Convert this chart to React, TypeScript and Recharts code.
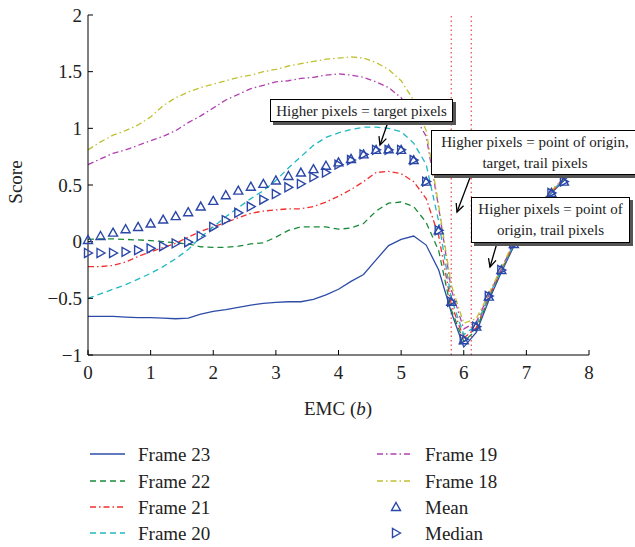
import { ComposedChart, Line, XAxis, YAxis, ReferenceLine } from 'recharts';

const xs = [0, 0.2, 0.4, 0.6, 0.8, 1, 1.2, 1.4, 1.6, 1.8, 2, 2.2, 2.4, 2.6, 2.8, 3, 3.2, 3.4, 3.6, 3.8, 4, 4.2, 4.4, 4.6, 4.8, 5, 5.2, 5.4, 5.6, 5.8, 6, 6.2, 6.4, 6.6, 6.8, 7, 7.2, 7.4, 7.6, 7.8, 8];

const frame23 = [-0.66, -0.66, -0.66, -0.665, -0.67, -0.67, -0.675, -0.68, -0.675, -0.64, -0.615, -0.6, -0.58, -0.56, -0.545, -0.535, -0.53, -0.53, -0.51, -0.47, -0.42, -0.35, -0.29, -0.16, -0.035, 0.02, 0.05, -0.03, -0.25, -0.62, -0.93, -0.8, -0.52, -0.27, -0.04, 0.14, 0.3, 0.43, 0.54, 0.64, 0.73];
const frame22 = [0.02, 0.025, 0.025, 0.02, 0.015, 0.01, 0, -0.01, -0.02, -0.045, -0.05, -0.05, -0.04, -0.02, -0.01, 0.04, 0.1, 0.13, 0.13, 0.13, 0.11, 0.12, 0.16, 0.27, 0.34, 0.35, 0.31, 0.17, -0.08, -0.6, -0.88, -0.78, -0.5, -0.26, -0.03, 0.15, 0.31, 0.44, 0.55, 0.65, 0.74];
const frame21 = [-0.22, -0.22, -0.21, -0.18, -0.13, -0.09, -0.05, -0.015, 0.04, 0.09, 0.13, 0.17, 0.21, 0.25, 0.27, 0.28, 0.29, 0.29, 0.31, 0.35, 0.4, 0.46, 0.53, 0.61, 0.62, 0.6, 0.53, 0.38, 0.05, -0.55, -0.85, -0.76, -0.49, -0.25, -0.02, 0.16, 0.31, 0.44, 0.55, 0.65, 0.74];
const frame20 = [-0.5, -0.46, -0.42, -0.38, -0.33, -0.28, -0.22, -0.15, -0.07, 0.04, 0.13, 0.22, 0.3, 0.38, 0.45, 0.54, 0.65, 0.75, 0.85, 0.92, 0.96, 0.99, 1.01, 1.01, 1.0, 0.97, 0.87, 0.68, 0.18, -0.5, -0.82, -0.74, -0.48, -0.25, -0.02, 0.16, 0.31, 0.44, 0.55, 0.65, 0.74];
const frame19 = [0.68, 0.73, 0.78, 0.81, 0.85, 0.89, 0.93, 0.98, 1.05, 1.11, 1.18, 1.25, 1.3, 1.35, 1.38, 1.41, 1.42, 1.44, 1.45, 1.47, 1.48, 1.47, 1.45, 1.41, 1.36, 1.27, 1.12, 0.93, 0.3, -0.42, -0.77, -0.71, -0.47, -0.24, -0.01, 0.17, 0.32, 0.45, 0.56, 0.66, 0.75];
const frame18 = [0.81, 0.88, 0.94, 0.98, 1.03, 1.1, 1.2, 1.27, 1.32, 1.36, 1.39, 1.42, 1.45, 1.47, 1.5, 1.52, 1.55, 1.57, 1.59, 1.61, 1.62, 1.63, 1.62, 1.58, 1.52, 1.42, 1.25, 0.98, 0.32, -0.38, -0.72, -0.68, -0.46, -0.23, 0, 0.18, 0.33, 0.45, 0.56, 0.66, 0.75];
const mean = [0.015, 0.05, 0.08, 0.11, 0.13, 0.16, 0.195, 0.225, 0.26, 0.31, 0.36, 0.41, 0.45, 0.485, 0.51, 0.54, 0.58, 0.61, 0.64, 0.67, 0.7, 0.73, 0.77, 0.81, 0.815, 0.81, 0.72, 0.53, 0.1, -0.53, -0.87, -0.75, -0.485, -0.25, -0.02, 0.17, 0.31, 0.43, 0.53, 0.63, 0.72];
const median = [-0.1, -0.1, -0.1, -0.09, -0.075, -0.06, -0.04, -0.015, -0.005, 0.05, 0.13, 0.19, 0.255, 0.31, 0.37, 0.42, 0.48, 0.51, 0.57, 0.61, 0.68, 0.72, 0.77, 0.81, 0.81, 0.81, 0.72, 0.53, 0.1, -0.53, -0.86, -0.75, -0.48, -0.25, -0.02, 0.17, 0.31, 0.43, 0.53, 0.63, 0.72];

const xTicks = [0, 1, 2, 3, 4, 5, 6, 7, 8];
const yTicks = [-1, -0.5, 0, 0.5, 1, 1.5, 2];
const markerLines = [5.8, 6.12];

const data = xs.map((x, i) => ({
  x,
  f23: frame23[i],
  f22: frame22[i],
  f21: frame21[i],
  f20: frame20[i],
  f19: frame19[i],
  f18: frame18[i],
  mean: mean[i],
  median: median[i],
}));

const FONT = '"Liberation Serif", "DejaVu Serif", serif';
const MARK = '#2b47a8';

const lineSeries = [
  { key: 'f23', name: 'Frame 23', color: '#2c4ca8', dash: undefined },
  { key: 'f22', name: 'Frame 22', color: '#1a8a3a', dash: '6 4' },
  { key: 'f21', name: 'Frame 21', color: '#f03030', dash: '6 3 1.5 3' },
  { key: 'f20', name: 'Frame 20', color: '#20b8c0', dash: '6 4' },
  { key: 'f19', name: 'Frame 19', color: '#b040b0', dash: '6 3 1.5 3' },
  { key: 'f18', name: 'Frame 18', color: '#c0c030', dash: '6 3 1.5 3' },
];

const triUp = (cx: number, cy: number) => `M${cx},${cy - 4.5} L${cx + 4.5},${cy + 3.5} L${cx - 4.5},${cy + 3.5} Z`;
const triRight = (cx: number, cy: number) => `M${cx + 4.5},${cy} L${cx - 3.5},${cy - 4.5} L${cx - 3.5},${cy + 4.5} Z`;

function MeanDot(props: any) {
  const { cx, cy, index } = props;
  if (cx == null || cy == null) return null;
  return <path key={`mu-${index}`} d={triUp(cx, cy)} fill="none" stroke={MARK} strokeWidth={1.4} />;
}

function MedianDot(props: any) {
  const { cx, cy, index } = props;
  if (cx == null || cy == null) return null;
  return <path key={`md-${index}`} d={triRight(cx, cy)} fill="none" stroke={MARK} strokeWidth={1.4} />;
}

const fmt = (v: number) => String(v).replace('-', '\u2212');

// annotation boxes, page coordinates
const notes = [
  { lines: ['Higher pixels = target pixels'], left: 270, top: 99, width: 183, height: 23, arrow: [388, 122, 380, 145] },
  { lines: ['Higher pixels = point of origin,', 'target, trail pixels'], left: 431, top: 130, width: 208, height: 45, arrow: [471, 175, 457, 212] },
  { lines: ['Higher pixels = point of', 'origin, trail pixels'], left: 471, top: 197, width: 159, height: 46, arrow: [497, 243, 490, 267] },
];

function arrowHead(x1: number, y1: number, x2: number, y2: number) {
  const a = Math.atan2(y2 - y1, x2 - x1);
  const l = 9;
  const s = 0.45;
  const p1 = [x2 - l * Math.cos(a - s), y2 - l * Math.sin(a - s)];
  const p2 = [x2 - l * Math.cos(a + s), y2 - l * Math.sin(a + s)];
  return `M${p1[0]},${p1[1]} L${x2},${y2} L${p2[0]},${p2[1]}`;
}

function Legend() {
  const rows = [454, 481, 507, 533];
  const right = [
    { kind: 'line', s: lineSeries[4] },
    { kind: 'line', s: lineSeries[5] },
    { kind: 'mean', name: 'Mean' },
    { kind: 'median', name: 'Median' },
  ];
  return (
    <svg width={635} height={547} style={{ position: 'absolute', left: 0, top: 0, pointerEvents: 'none' }}>
      {lineSeries.slice(0, 4).map((s, i) => (
        <g key={s.key}>
          <line x1={90} x2={125} y1={rows[i]} y2={rows[i]} stroke={s.color} strokeWidth={1.4} strokeDasharray={s.dash} />
          <text x={138} y={rows[i]} dy="0.35em" fontFamily={FONT} fontSize={19} fill="#222">{s.name}</text>
        </g>
      ))}
      {right.map((r: any, i) => (
        <g key={i}>
          {r.kind === 'line' && (
            <line x1={377} x2={413} y1={rows[i]} y2={rows[i]} stroke={r.s.color} strokeWidth={1.4} strokeDasharray={r.s.dash} />
          )}
          {r.kind === 'mean' && <path d={triUp(396, rows[i])} fill="none" stroke={MARK} strokeWidth={1.4} />}
          {r.kind === 'median' && <path d={triRight(396, rows[i])} fill="none" stroke={MARK} strokeWidth={1.4} />}
          <text x={425} y={rows[i]} dy="0.35em" fontFamily={FONT} fontSize={19} fill="#222">{r.kind === 'line' ? r.s.name : r.name}</text>
        </g>
      ))}
    </svg>
  );
}

export default function App() {
  return (
    <div style={{ position: 'relative', width: 635, height: 547, overflow: 'hidden', background: '#fff' }}>
      <style>{'body{margin:0}'}</style>
      <ComposedChart width={635} height={547} data={data} margin={{ top: 15, right: 46, bottom: 132, left: 28 }}>
        <XAxis
          dataKey="x"
          type="number"
          domain={[0, 8]}
          ticks={xTicks}
          tickSize={-5}
          tickMargin={16}
          height={60}
          stroke="#000"
          tick={{ fill: '#222', fontSize: 19, fontFamily: FONT }}
          label={{
            content: (p: any) => (
              <text x={338} y={408} textAnchor="middle" dy="0.35em" fontFamily={FONT} fontSize={19} fill="#222">
                EMC (<tspan fontStyle="italic">b</tspan>)
              </text>
            ),
          }}
        />
        <XAxis xAxisId="top" orientation="top" type="number" domain={[0, 8]} ticks={xTicks} tickSize={-5} height={0} tick={false} stroke="#000" />
        <YAxis
          type="number"
          domain={[-1, 2]}
          ticks={yTicks}
          tickSize={-5}
          tickMargin={11}
          width={60}
          stroke="#000"
          tickFormatter={fmt}
          tick={{ fill: '#222', fontSize: 19, fontFamily: FONT }}
          label={{
            content: () => (
              <text x={15} y={182} transform="rotate(-90 15 182)" textAnchor="middle" dy="0.35em" fontFamily={FONT} fontSize={19} fill="#222">
                Score
              </text>
            ),
          }}
        />
        <YAxis yAxisId="right" orientation="right" type="number" domain={[-1, 2]} ticks={yTicks} tickSize={-5} width={0} tick={false} stroke="#000" />
        {markerLines.map((v) => (
          <ReferenceLine key={v} x={v} stroke="#e84848" strokeDasharray="1.5 3" strokeWidth={1.2} />
        ))}
        {lineSeries.map((s) => (
          <Line
            key={s.key}
            dataKey={s.key}
            name={s.name}
            type="linear"
            stroke={s.color}
            strokeWidth={1.3}
            strokeDasharray={s.dash}
            dot={false}
            activeDot={false}
            isAnimationActive={false}
          />
        ))}
        <Line dataKey="mean" name="Mean" stroke="none" dot={MeanDot} activeDot={false} isAnimationActive={false} />
        <Line dataKey="median" name="Median" stroke="none" dot={MedianDot} activeDot={false} isAnimationActive={false} />
      </ComposedChart>
      <svg width={635} height={547} style={{ position: 'absolute', left: 0, top: 0, pointerEvents: 'none' }}>
        {notes.map((n, i) => {
          const [x1, y1, x2, y2] = n.arrow;
          return (
            <g key={i}>
              <line x1={x1} y1={y1} x2={x2} y2={y2} stroke="#000" strokeWidth={1.3} />
              <path d={arrowHead(x1, y1, x2, y2)} fill="none" stroke="#000" strokeWidth={1.3} />
            </g>
          );
        })}
      </svg>
      {notes.map((n, i) => (
        <div
          key={i}
          style={{
            position: 'absolute',
            left: n.left,
            top: n.top,
            width: n.width,
            height: n.height,
            boxSizing: 'border-box',
            border: '1px solid #000',
            background: '#fff',
            boxShadow: '3px 3px 0 #555',
            fontFamily: FONT,
            fontSize: 15,
            lineHeight: '21px',
            color: '#222',
            textAlign: 'center',
            whiteSpace: 'nowrap',
            paddingTop: 1,
          }}
        >
          {n.lines.map((l, j) => (
            <div key={j}>{l}</div>
          ))}
        </div>
      ))}
      <Legend />
    </div>
  );
}
